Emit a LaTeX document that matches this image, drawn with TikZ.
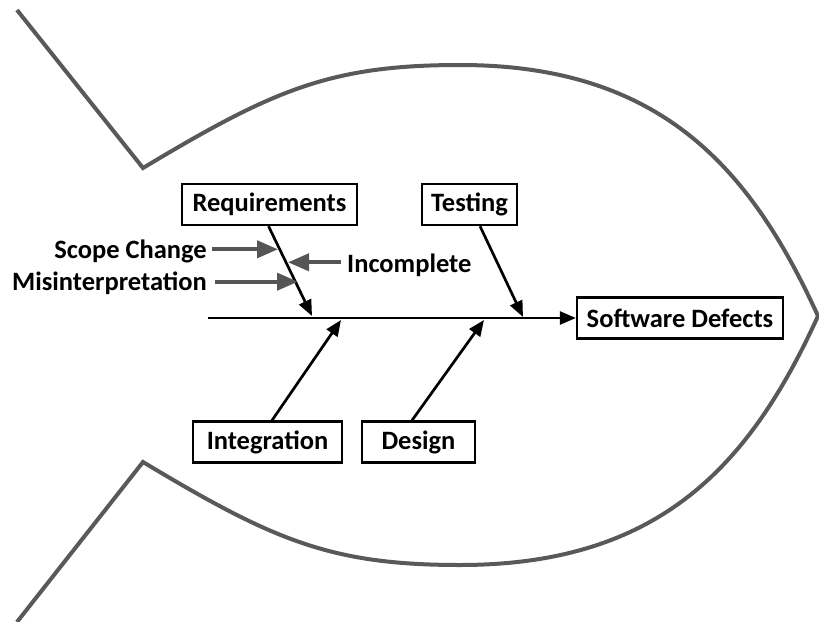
\documentclass[tikz,border=0pt]{standalone}
\usepackage{fontspec}
\setmainfont{Carlito}
\usetikzlibrary{arrows.meta,calc}
\definecolor{fishgray}{HTML}{595959}
\definecolor{causegray}{HTML}{555555}
\tikzset{
  box/.style={draw=black, line width=2.3pt, fill=white, font=\bfseries\fontsize{26.5}{31}\selectfont, inner sep=0pt, minimum height=41pt},
  lbl/.style={font=\bfseries\fontsize{26.5}{31}\selectfont, inner sep=0pt},
  bone/.style={line width=2.7pt, -{Triangle[length=16pt,width=13pt]}},
  subcause/.style={draw=causegray, line width=4pt, -{Triangle[length=21pt,width=17pt]}},
  fish/.style={draw=fishgray, line width=4pt, line join=miter}
}
\begin{document}
\begin{tikzpicture}[x=1pt,y=-1pt]
\useasboundingbox (0,0) rectangle (819,621);
% fish outline
\draw[fish] (17,10) -- (143,168)
  .. controls (273,90) and (330,65) .. (460,65)
  .. controls (660,65) and (750,167) .. (818,316)
  .. controls (750,465) and (660,565) .. (460,565)
  .. controls (330,565) and (273,540) .. (143,462) -- (17,622);
% boxes
\node[box, minimum width=175pt] (req) at (269.5,204.5) {Requirements};
\node[box, minimum width=95pt] (test) at (469.5,204.5) {Testing};
\node[box, minimum width=149pt] (integ) at (267.5,442) {Integration};
\node[box, minimum width=113pt] (design) at (418.5,442) {Design};
\node[box, minimum width=206pt] (defects) at (680,318) {Software Defects};
% spine
\coordinate (spinestart) at (208,318);
\draw[bone] (spinestart) -- (defects.west);
% bones
\coordinate (reqstart) at ($(req.south)+(-1,0)$);
\coordinate (reqend) at (312,316);
\draw[bone] (reqstart) -- (reqend);
\coordinate (teststart) at ($(test.south)+(10.5,0)$);
\coordinate (testend) at (523,317);
\draw[bone] (teststart) -- (testend);
\coordinate (integstart) at ($(integ.north)+(4.5,0)$);
\coordinate (integend) at (341,320);
\draw[bone] (integstart) -- (integend);
\coordinate (designstart) at ($(design.north)+(-6.5,0)$);
\coordinate (designend) at (484,320);
\draw[bone] (designstart) -- (designend);
% sub-causes
\node[lbl, anchor=base east] (scope) at (207,258) {Scope Change};
\node[lbl, anchor=base east] (mis) at (207,290) {Misinterpretation};
\node[lbl, anchor=base west] (inc) at (347,272) {Incomplete};
\coordinate (scopetip) at (278,249.3);
\coordinate (mistip) at (298,281.7);
\coordinate (inctip) at (288,262.3);
\draw[subcause] ($(scope.base east)+(5,-8.7)$) -- (scopetip);
\draw[subcause] ($(mis.base east)+(8,-8.3)$) -- (mistip);
\draw[subcause] ($(inc.base west)+(-6,-9.7)$) -- (inctip);
\end{tikzpicture}
\end{document}
